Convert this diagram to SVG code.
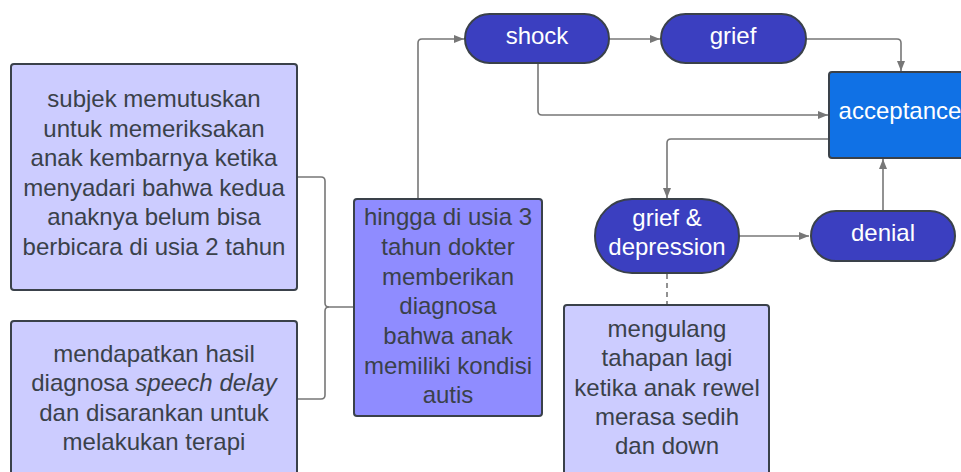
<svg xmlns="http://www.w3.org/2000/svg" width="961" height="472" viewBox="0 0 961 472">
  <defs>
    <style>
      .txt { font-family: "Liberation Sans", Arial, sans-serif; font-size: 24px; text-anchor: middle; }
      .dark { fill: #3a414a; }
      .light { fill: #ffffff; }
      .note { fill: #ccccff; stroke: #3a414a; stroke-width: 2; }
      .mid { fill: #8f8cff; stroke: #3a414a; stroke-width: 2; }
      .pill { fill: #3b3fc0; stroke: #3a414a; stroke-width: 2; }
      .acc { fill: #1071e5; stroke: #3a414a; stroke-width: 2; }
      .conn { fill: none; stroke: #777777; stroke-width: 1.6; }
      .arrow { marker-end: url(#head); }
      .dash { stroke-dasharray: 5 4; }
    </style>
    <marker id="head" viewBox="0 0 10 10" refX="10" refY="5" markerWidth="10" markerHeight="10" markerUnits="userSpaceOnUse" orient="auto">
      <path d="M0,1 L10,5 L0,9 Z" fill="#777777"/>
    </marker>
  </defs>

  <!-- connectors -->
  <g id="connectors">
    <path class="conn" d="M297,177 H321 Q325,177 325,181 V303 Q325,307 329,307 H354"/>
    <path class="conn" d="M297,399 H321 Q325,399 325,395 V311 Q325,307 329,307"/>
    <path class="conn arrow" d="M418,199 V43 Q418,39 422,39 H464"/>
    <path class="conn arrow" d="M609,39 H660"/>
    <path class="conn arrow" d="M806,39 H897 Q901,39 901,43 V71"/>
    <path class="conn arrow" d="M538,63 V111 Q538,115 542,115 H828"/>
    <path class="conn arrow" d="M829,139 H671 Q667,139 667,143 V198"/>
    <path class="conn arrow" d="M739,236 H809"/>
    <path class="conn arrow" d="M883,211 V159"/>
    <path class="conn dash" d="M667,274 V305"/>
  </g>

  <!-- left note: initial concern -->
  <g id="node-concern">
    <rect class="note" x="11" y="64" width="286" height="226" rx="3"/>
    <text class="txt dark" x="154" y="107">subjek memutuskan</text>
    <text class="txt dark" x="154" y="136.5">untuk memeriksakan</text>
    <text class="txt dark" x="154" y="166">anak kembarnya ketika</text>
    <text class="txt dark" x="154" y="195.5">menyadari bahwa kedua</text>
    <text class="txt dark" x="154" y="225">anaknya belum bisa</text>
    <text class="txt dark" x="154" y="254.5">berbicara di usia 2 tahun</text>
  </g>

  <!-- left note: speech delay -->
  <g id="node-speech">
    <rect class="note" x="11" y="321" width="286" height="190" rx="3"/>
    <text class="txt dark" x="154" y="362">mendapatkan hasil</text>
    <text class="txt dark" x="154" y="391">diagnosa <tspan font-style="italic">speech delay</tspan></text>
    <text class="txt dark" x="154" y="420.5">dan disarankan untuk</text>
    <text class="txt dark" x="154" y="450">melakukan terapi</text>
  </g>

  <!-- diagnosis -->
  <g id="node-diagnosis">
    <rect class="mid" x="354" y="199" width="188" height="217" rx="3"/>
    <text class="txt dark" x="448" y="225">hingga di usia 3</text>
    <text class="txt dark" x="448" y="255">tahun dokter</text>
    <text class="txt dark" x="448" y="284.5">memberikan</text>
    <text class="txt dark" x="448" y="314">diagnosa</text>
    <text class="txt dark" x="448" y="344">bahwa anak</text>
    <text class="txt dark" x="448" y="373.5">memiliki kondisi</text>
    <text class="txt dark" x="448" y="403">autis</text>
  </g>

  <!-- stages -->
  <g id="node-shock">
    <rect class="pill" x="465" y="14" width="144" height="49" rx="24.5"/>
    <text class="txt light" x="537" y="43.5">shock</text>
  </g>

  <g id="node-grief">
    <rect class="pill" x="661" y="14" width="145" height="49" rx="24.5"/>
    <text class="txt light" x="733" y="43.5">grief</text>
  </g>

  <g id="node-acceptance">
    <rect class="acc" x="829" y="72" width="142" height="86" rx="3"/>
    <text class="txt light" x="900" y="119">acceptance</text>
  </g>

  <g id="node-grief-depression">
    <rect class="pill" x="595" y="199" width="144" height="74" rx="37"/>
    <text class="txt light" x="667" y="226">grief &amp;</text>
    <text class="txt light" x="667" y="255">depression</text>
  </g>

  <g id="node-denial">
    <rect class="pill" x="811" y="211" width="144" height="50" rx="25"/>
    <text class="txt light" x="883" y="241">denial</text>
  </g>

  <!-- note attached to grief & depression -->
  <g id="node-repeat">
    <rect class="note" x="564" y="305" width="205" height="200" rx="3"/>
    <text class="txt dark" x="667" y="337">mengulang</text>
    <text class="txt dark" x="667" y="366">tahapan lagi</text>
    <text class="txt dark" x="667" y="395.5">ketika anak rewel</text>
    <text class="txt dark" x="667" y="425">merasa sedih</text>
    <text class="txt dark" x="667" y="454">dan down</text>
  </g>
</svg>
